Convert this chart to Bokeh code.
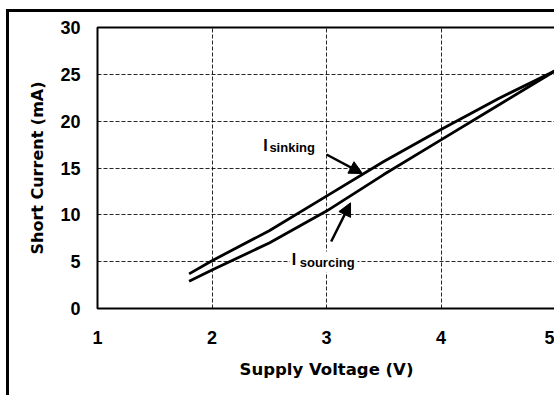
from bokeh.plotting import figure
from bokeh.models import FixedTicker, Label, Arrow, NormalHead
from bokeh.embed import file_html
from bokeh.resources import INLINE

# Data
voltage = [1.8, 2.0, 2.5, 3.0, 3.5, 4.0, 4.5, 5.0]
i_sinking = [3.7, 5.1, 8.3, 12.0, 15.7, 19.1, 22.4, 25.4]
i_sourcing = [2.9, 4.1, 7.0, 10.4, 14.3, 18.0, 21.7, 25.4]
x_ticks = [1, 2, 3, 4, 5]
y_ticks = [0, 5, 10, 15, 20, 25, 30]

p = figure(width=548, height=386, x_range=(1, 5), y_range=(0, 30),
           output_backend="svg", toolbar_location=None,
           min_border_left=88, min_border_right=2,
           min_border_top=15, min_border_bottom=90)
p.margin = (9, 0, 0, 6)
p.styles = {"border-top": "3px solid black", "border-left": "3px solid black"}
p.background_fill_color = "white"
p.border_fill_color = "white"
p.outline_line_color = "black"
p.outline_line_width = 2

for ax in (p.xaxis[0], p.yaxis[0]):
    ax.axis_line_color = None
    ax.major_tick_line_color = None
    ax.minor_tick_line_color = None
    ax.major_label_text_font = "Liberation Sans"
    ax.major_label_text_font_style = "bold"
    ax.major_label_text_font_size = "18px"
    ax.major_label_text_color = "black"
    ax.axis_label_text_font = "DejaVu Sans"
    ax.axis_label_text_font_style = "bold"
    ax.axis_label_text_color = "black"

p.xaxis.ticker = FixedTicker(ticks=x_ticks)
p.yaxis.ticker = FixedTicker(ticks=y_ticks)
p.xaxis.axis_label = "Supply Voltage (V)"
p.yaxis.axis_label = "Short Current (mA)"
p.xaxis.axis_label_text_font_size = "16.5px"
p.yaxis.axis_label_text_font_size = "16px"
p.xaxis.major_label_standoff = 16
p.yaxis.major_label_standoff = 11
p.xaxis.axis_label_standoff = 13
p.yaxis.axis_label_standoff = 10

for g in (p.xgrid[0], p.ygrid[0]):
    g.grid_line_color = "black"
    g.grid_line_width = 1
    g.grid_line_dash = "4 2"
    g.grid_line_alpha = 0.85

p.line(voltage, i_sinking, line_color="black", line_width=2.8)
p.line(voltage, i_sourcing, line_color="black", line_width=2.8)

def sub_label(x, y, xs, ys, sub):
    big = Label(x=x, y=y, text="I", text_font="Liberation Sans",
                text_font_style="bold", text_font_size="16px",
                text_color="black", text_baseline="alphabetic",
                background_fill_color="white", padding=2)
    small = Label(x=xs, y=ys, text=sub, text_font="Liberation Sans",
                  text_font_style="bold", text_font_size="13px",
                  text_color="black", text_baseline="alphabetic",
                  background_fill_color="white", padding=3)
    p.add_layout(small)
    p.add_layout(big)

sub_label(2.43, 17.4, 2.475, 17.18, "sinking")
sub_label(2.68, 5.2, 2.74, 4.96, "sourcing")

p.add_layout(Arrow(x_start=3.0, y_start=16.44, x_end=3.314, y_end=14.41,
                   line_color="black", line_width=2.5,
                   end=NormalHead(size=13, fill_color="black", line_color="black")))
p.add_layout(Arrow(x_start=3.041, y_start=7.15, x_end=3.21, y_end=11.28,
                   line_color="black", line_width=2.5,
                   end=NormalHead(size=13, fill_color="black", line_color="black")))

open("out.html", "w").write(file_html(p, INLINE))
